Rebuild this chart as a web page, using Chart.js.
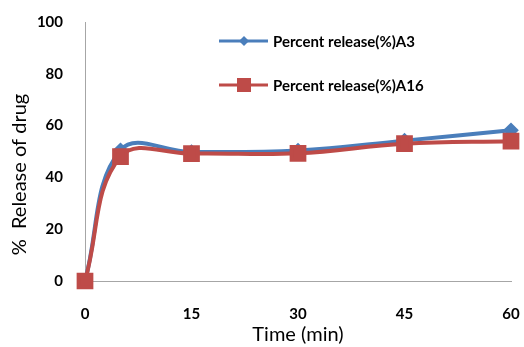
<!DOCTYPE html>
<html>
<head>
<meta charset="utf-8">
<script src="https://cdn.jsdelivr.net/npm/chart.js@4/dist/chart.umd.min.js"></script>
<style>
  html, body { margin: 0; padding: 0; background: #fff; }
  #wrap { width: 524px; height: 347px; }
</style>
</head>
<body>
<div id="wrap"><canvas id="releaseChart" width="524" height="347"></canvas></div>
<script>
// Time points (min) and release values (%)
const times = [0, 5, 15, 30, 45, 60];
const releaseA3 = [0, 50.5, 49.8, 50.4, 54.2, 58.2];
const releaseA16 = [0, 48, 49.2, 49.3, 53, 54];
const xTicks = [0, 15, 30, 45, 60];
const yTicks = [0, 20, 40, 60, 80, 100];

const BLUE = "#4A7EBB";
const RED = "#BE4B48";
const FONT = "Lato, 'Liberation Sans', sans-serif";

function toPoints(xs, ys) {
  return xs.map((x, i) => ({ x: x, y: ys[i] }));
}

// legend drawn inside the plot, upper right, like the original
const insideLegend = {
  id: "insideLegend",
  afterDraw(chart) {
    const c = chart.ctx;
    const rows = [
      { ds: chart.data.datasets[0], y: 41 },
      { ds: chart.data.datasets[1], y: 85 },
    ];
    c.save();
    rows.forEach(r => {
      c.strokeStyle = r.ds.borderColor;
      c.lineWidth = 3;
      c.beginPath();
      c.moveTo(219, r.y);
      c.lineTo(268, r.y);
      c.stroke();
      c.fillStyle = r.ds.pointBackgroundColor;
      if (r.ds.pointStyle === "rect") {
        c.fillRect(244 - 7, r.y - 7, 14, 14);
      } else {
        c.beginPath();
        c.moveTo(244, r.y - 5);
        c.lineTo(249, r.y);
        c.lineTo(244, r.y + 5);
        c.lineTo(239, r.y);
        c.closePath();
        c.fill();
      }
      c.fillStyle = "#000";
      c.font = "bold 15px " + FONT;
      c.textBaseline = "middle";
      c.textAlign = "left";
      c.fillText(r.ds.label, 273, r.y + 1);
    });
    c.restore();
  }
};

new Chart(document.getElementById("releaseChart").getContext("2d"), {
  type: "line",
  data: {
    datasets: [
      {
        label: "Percent release(%)A3",
        data: toPoints(times, releaseA3),
        borderColor: BLUE,
        backgroundColor: BLUE,
        pointBackgroundColor: BLUE,
        pointBorderColor: BLUE,
        pointStyle: "rectRot",
        pointRadius: 5,
        borderWidth: 4,
        tension: 0.4,
        fill: false,
        clip: false,
        order: 1,
      },
      {
        label: "Percent release(%)A16",
        data: toPoints(times, releaseA16),
        borderColor: RED,
        backgroundColor: RED,
        pointBackgroundColor: RED,
        pointBorderColor: RED,
        pointStyle: "rect",
        pointRadius: 9,
        borderWidth: 4,
        tension: 0.4,
        fill: false,
        clip: false,
        order: 0,
      },
    ],
  },
  options: {
    responsive: false,
    animation: false,
    layout: { padding: { top: 22, right: 10, left: 0, bottom: 0 } },
    plugins: {
      legend: { display: false },
      tooltip: { enabled: false },
    },
    scales: {
      x: {
        type: "linear",
        min: 0,
        max: 60,
        afterBuildTicks: s => { s.ticks = xTicks.map(v => ({ value: v })); },
        afterFit: s => { s.height = 66; s.paddingLeft = 0; s.paddingRight = 0; },
        grid: { display: false, drawTicks: false },
        border: { color: "#a6a6a6", width: 1 },
        ticks: {
          padding: 24,
          color: "#000",
          font: { family: FONT, size: 15, weight: "bold" },
        },
        title: {
          display: true,
          text: "Time (min)",
          color: "#000",
          padding: { top: 0, bottom: 0 },
          font: { family: FONT, size: 20 },
        },
      },
      y: {
        min: 0,
        max: 100,
        afterBuildTicks: s => { s.ticks = yTicks.map(v => ({ value: v })); },
        afterFit: s => { s.width = 85; s.paddingTop = 0; s.paddingBottom = 0; },
        grid: { display: false, drawTicks: false },
        border: { color: "#a6a6a6", width: 1 },
        ticks: {
          padding: 22,
          color: "#000",
          font: { family: FONT, size: 15, weight: "bold" },
        },
        title: {
          display: true,
          text: "%  Release of drug         ",
          color: "#000",
          padding: { top: 8, bottom: 0 },
          font: { family: FONT, size: 20 },
        },
      },
    },
  },
  plugins: [insideLegend],
});
</script>
</body>
</html>
